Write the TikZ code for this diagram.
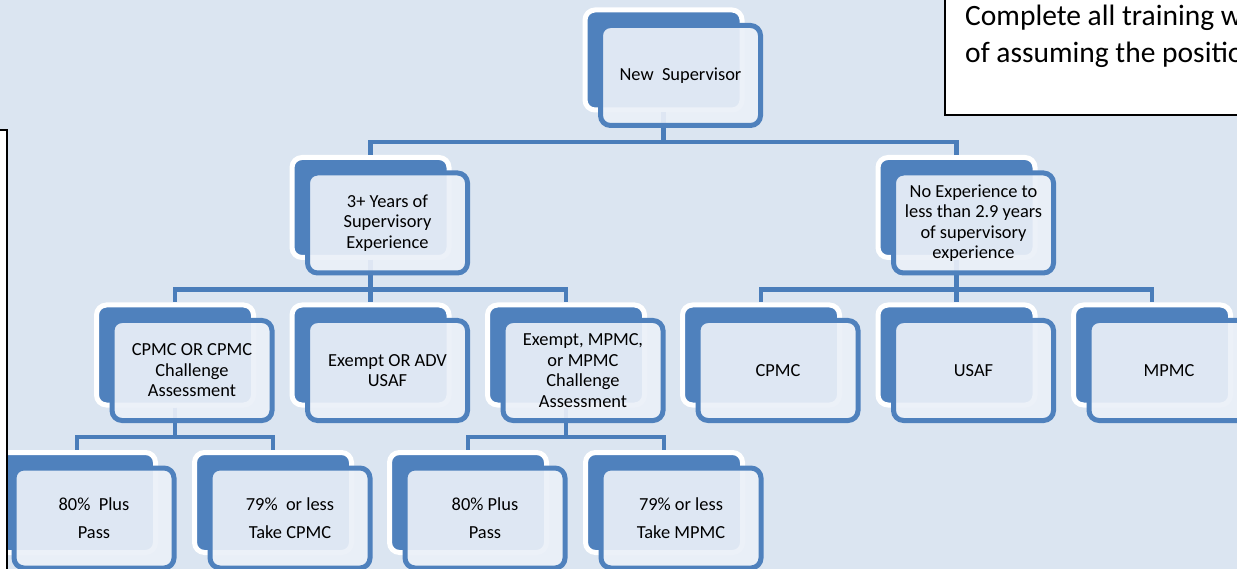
\documentclass[tikz,border=0pt]{standalone}
\usepackage{fontspec}
\setmainfont{Carlito}
\definecolor{boxblue}{HTML}{4F81BD}
\definecolor{linkblue}{HTML}{4A7DBA}
\definecolor{pageblue}{HTML}{DBE5F1}
\definecolor{cardfill}{HTML}{EBF0F8}
\begin{document}
\begin{tikzpicture}[x=1pt,y=1pt,
    level distance=147.5pt,
    level 1/.style={sibling distance=586pt},
    level 2/.style={sibling distance=195.5pt},
    level 3/.style={sibling distance=196pt},
    backbox/.style={shape=rectangle,rounded corners=10pt,fill=boxblue,draw=white,
      line width=5pt,minimum width=157pt,minimum height=100pt,inner sep=0pt},
    frontbox/.style={shape=rectangle,rounded corners=10pt,fill=cardfill,fill opacity=0.92,
      text opacity=1,draw=boxblue,line width=5pt,minimum width=160pt,minimum height=100pt,
      inner sep=2pt,align=center,font=\fontsize{18.4}{20.5}\selectfont},
    card of/.style={at={([shift={(17pt,-15.5pt)}]#1.center)}},
    edge from parent/.style={draw=linkblue,line width=4.5pt},
    edge from parent path={(\tikzparentnode.south) |- ([yshift=13pt]\tikzchildnode.north)
      -- (\tikzchildnode.north)}]
    \useasboundingbox (0,0) rectangle (1237,-569);
    \clip (0,0) rectangle (1237,-569);
    \fill[pageblue] (0,0) rectangle (1237,-569);
    % org chart: back boxes and connectors
    \node[backbox] (newsup) at (663.5,-60) {}
    child {node[backbox] (threeyrs) {}
      child {node[backbox] (cpmcor) {}
        child {node[backbox] (passa) {}}
        child {node[backbox] (takecpmc) {}}}
      child {node[backbox] (advusaf) {}}
      child {node[backbox] (mpmcor) {}
        child {node[backbox] (passb) {}}
        child {node[backbox] (takempmc) {}}
      }
    }
    child {node[backbox] (noexp) {}
      child {node[backbox] (cpmc) {}}
      child {node[backbox] (usaf) {}}
      child {node[backbox] (mpmc) {}}
    };
    % front cards with the texts
    \node[frontbox,card of=newsup] (newsup-card) {New\ \ Supervisor};
    \node[frontbox,card of=threeyrs] (threeyrs-card) {3+ Years of\\Supervisory\\Experience};
    \node[frontbox,card of=noexp] (noexp-card) {No Experience to\\less than 2.9 years\\of supervisory\\experience};
    \node[frontbox,card of=cpmcor] (cpmcor-card) {CPMC OR CPMC\\Challenge\\Assessment};
    \node[frontbox,card of=advusaf] (advusaf-card) {Exempt OR ADV\\USAF};
    \node[frontbox,card of=mpmcor] (mpmcor-card) {Exempt, MPMC,\\or MPMC\\Challenge\\Assessment};
    \node[frontbox,card of=cpmc] (cpmc-card) {CPMC};
    \node[frontbox,card of=usaf] (usaf-card) {USAF};
    \node[frontbox,card of=mpmc] (mpmc-card) {MPMC};
    \node[frontbox,card of=passa] (passa-card) {80\%\ \ Plus\\[7.5pt]Pass};
    \node[frontbox,card of=takecpmc] (takecpmc-card) {79\%\ \ or less\\[7.5pt]Take CPMC};
    \node[frontbox,card of=passb] (passb-card) {80\% Plus\\[7.5pt]Pass};
    \node[frontbox,card of=takempmc] (takempmc-card) {79\% or less\\[7.5pt]Take MPMC};
    % side notes
    \filldraw[fill=white,draw=black,line width=2pt] (-10,-130) rectangle (7,-600);
    \filldraw[fill=white,draw=black,line width=2pt] (945,-115) rectangle (1300,10);
    \node[anchor=base west,inner sep=0pt,font=\fontsize{29.5}{37}\selectfont] (note-a) at (965,-26) {Complete all training w};
    \node[anchor=base west,inner sep=0pt,font=\fontsize{29.5}{37}\selectfont] (note-b) at (965,-63) {of assuming the positio};
\end{tikzpicture}
\end{document}
